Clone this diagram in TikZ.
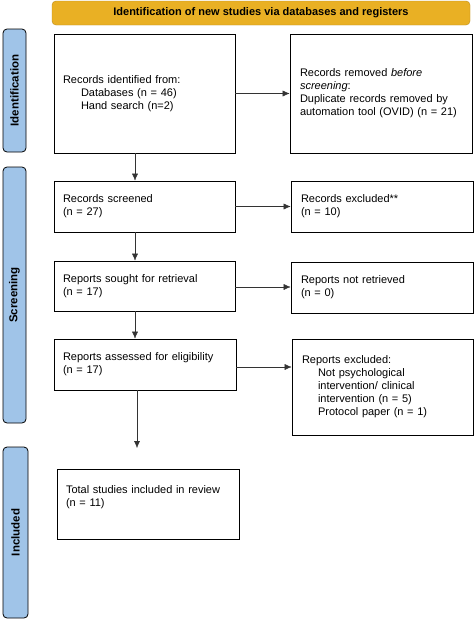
\documentclass[tikz,border=0pt]{standalone}
\usepackage{fontspec}
\setmainfont{Liberation Sans}
\usetikzlibrary{arrows,arrows.meta}
\definecolor{headgold}{HTML}{E9B024}
\definecolor{sideblue}{HTML}{A0C4E8}

\begin{document}
\begin{tikzpicture}[x=1pt,y=-1pt,>={Latex[length=7pt,width=6pt]},
    boxstyle/.style={draw,thick,fill=white,inner sep=9pt,align=left,font=\fontsize{11}{13}\selectfont},
    sidestyle/.style={draw,thick,fill=sideblue,rounded corners=4pt,minimum width=23},
    sidetext/.style={rotate=90,font=\bfseries\fontsize{11.5}{13}\selectfont},
    headstyle/.style={draw=headgold!80!black,fill=headgold,rounded corners=4pt,minimum width=418,minimum height=24,font=\bfseries\fontsize{11}{13}\selectfont},
    arrstyle/.style={->,draw=black!80}]
    \useasboundingbox[fill=white] (0,0) rectangle (474,619);
    % header
    \node [headstyle] (head) at (261,13) {Identification of new studies via databases and registers};
    % phases
    \node [sidestyle,minimum height=123] (sideid) at (14.5,90.5) {};
    \node [sidetext] at (sideid) {Identification};
    \node [sidestyle,minimum height=256] (sidescr) at (14.5,295) {};
    \node [sidetext] at (sidescr) {Screening};
    \node [sidestyle,minimum height=171,minimum width=25] (sideinc) at (15.5,532.5) {};
    \node [sidetext] at (sideinc) {Included};
    % left column
    \node [boxstyle,text width=163,minimum height=119] (identified) at (144.5,93.5)
	{Records identified from:\\\hspace*{18pt}Databases (n = 46)\\\hspace*{18pt}Hand search (n=2)};
    \node [boxstyle,text width=163,minimum height=51] (screened) at (144.5,206.5)
	{Records screened\\(n = 27)};
    \node [boxstyle,text width=163,minimum height=50] (sought) at (144.5,286)
	{Reports sought for retrieval\\(n = 17)};
    \node [boxstyle,text width=164,minimum height=51] (assessed) at (145,364.5)
	{Reports assessed for eligibility\\(n = 17)};
    \node [boxstyle,text width=164,minimum height=70] (included) at (148,504)
	{Total studies included in review\\(n = 11)\\\strut};
    % right column
    \node [boxstyle,text width=162,inner sep=10pt,minimum height=119] (removed) at (381,93.5)
	{Records removed \emph{before}\\\emph{screening}:\\Duplicate records removed by\\automation tool (OVID) (n = 21)};
    \node [boxstyle,text width=162,inner sep=10pt,minimum height=51] (excluded) at (382,206.5)
	{Records excluded**\\(n = 10)};
    \node [boxstyle,text width=162,inner sep=10pt,minimum height=51] (notret) at (382,287.5)
	{Reports not retrieved\\(n = 0)};
    \node [boxstyle,text width=161,inner sep=10pt,minimum height=96] (repexcl) at (382.5,387)
	{Reports excluded:\\\hspace*{16pt}Not psychological\\\hspace*{16pt}intervention/ clinical\\\hspace*{16pt}intervention (n = 5)\\\hspace*{16pt}Protocol paper (n = 1)};
    % arrows
    \draw [arrstyle] (identified) -- (removed);
    \draw [arrstyle] (screened) -- (excluded);
    \draw [arrstyle] (sought.east |- 0,287) -- (notret.west |- 0,287);
    \draw [arrstyle] (assessed.east |- 0,367) -- (repexcl.west |- 0,367);
    \draw [arrstyle] ([xshift=-9.5pt]identified.south) -- ([xshift=-9.5pt]identified.south |- screened.north);
    \draw [arrstyle] ([xshift=-9.5pt]screened.south) -- ([xshift=-9.5pt]screened.south |- sought.north);
    \draw [arrstyle] ([xshift=-9.5pt]sought.south) -- ([xshift=-9.5pt]sought.south |- assessed.north);
    \coordinate (incend) at (137,448);
    \draw [arrstyle] (assessed.south -| incend) -- (incend);
\end{tikzpicture}
\end{document}
